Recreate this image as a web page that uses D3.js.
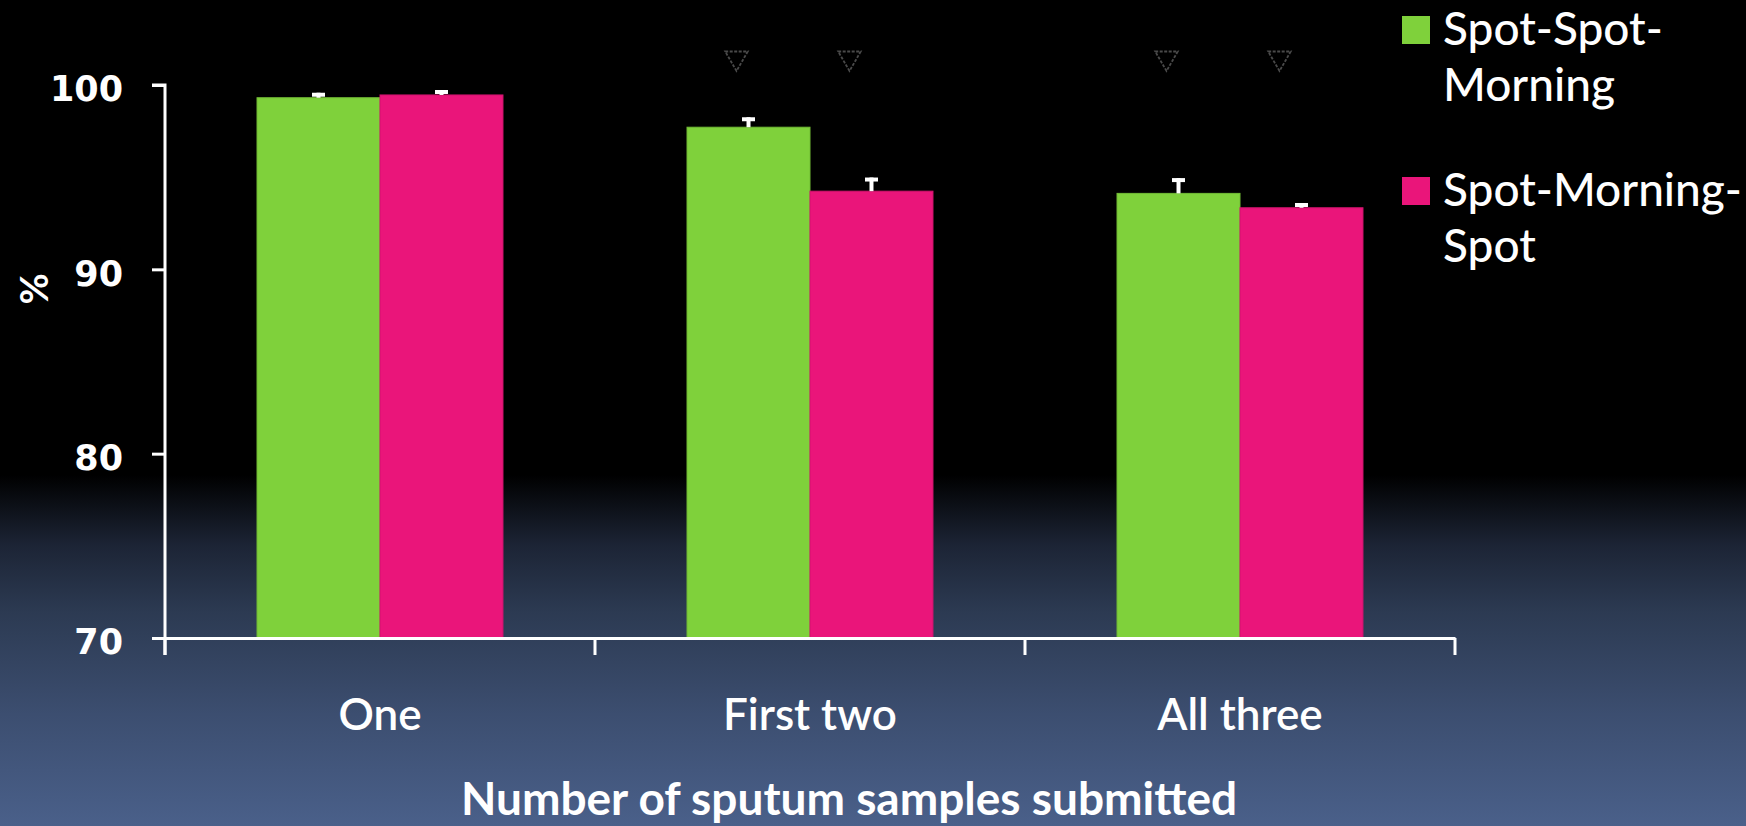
<!DOCTYPE html>
<html><head><meta charset="utf-8">
<script src="https://cdn.jsdelivr.net/npm/d3@7"></script>
<style>html,body{margin:0;padding:0;background:#000;}svg{display:block;}</style>
</head><body>
<svg id="c" width="1746" height="826"></svg>
<script>
const categories = ["One", "First two", "All three"];
const seriesNames = ["Spot-Spot-Morning", "Spot-Morning-Spot"];
const legendLines = [["Spot-Spot-", "Morning"], ["Spot-Morning-", "Spot"]];
const seriesColors = ["#7fd13b", "#ea157a"];
const spotSpotMorning = [99.31, 97.71, 94.12];
const spotMorningSpot = [99.46, 94.24, 93.34];
const errSpotSpotMorning = [0.27, 0.54, 0.83];
const errSpotMorningSpot = [0.27, 0.74, 0.26];
const yTicks = [70, 80, 90, 100];
const markerCategories = ["First two", "All three"];
const xTitle = "Number of sputum samples submitted";
const yTitle = "%";

const values = [spotSpotMorning, spotMorningSpot];
const errs = [errSpotSpotMorning, errSpotMorningSpot];

const svg = d3.select("#c");
const W = 1746, H = 826;
const font = "Lato, 'Open Sans', sans-serif";

// background gradient
const defs = svg.append("defs");
const g = defs.append("linearGradient").attr("id","bg").attr("x1",0).attr("y1",0).attr("x2",0).attr("y2",1);
[[0,"#000"],[0.575,"#000"],[0.66,"#1c2435"],[0.74,"#2c3a52"],[0.865,"#3c4e70"],[1,"#4a608a"]]
  .forEach(([o,c]) => g.append("stop").attr("offset",o).attr("stop-color",c));
svg.append("rect").attr("width",W).attr("height",H).attr("fill","url(#bg)");

const x0 = d3.scaleBand().domain(categories).range([165, 1455]).padding(0);
const x1 = d3.scaleBand().domain(seriesNames)
  .range([x0.bandwidth()*0.214, x0.bandwidth()*0.786]).padding(0);
const y = d3.scaleLinear().domain([70, 100]).range([638, 85]);

// bars
const data = [];
categories.forEach((c, i) => seriesNames.forEach((s, j) =>
  data.push({c, s, j, v: values[j][i], e: errs[j][i]})));

svg.append("g").selectAll("rect").data(data).join("rect")
  .attr("x", d => x0(d.c) + x1(d.s))
  .attr("width", x1.bandwidth())
  .attr("y", d => y(d.v))
  .attr("height", d => y(70) - y(d.v))
  .attr("fill", d => seriesColors[d.j])
  .attr("stroke", d => d3.color(seriesColors[d.j]).darker(0.3))
  .attr("stroke-width", 1);

// error bars
const eb = svg.append("g").attr("stroke","#fff").attr("fill","none");
data.forEach(d => {
  const cx = x0(d.c) + x1(d.s) + x1.bandwidth()/2;
  eb.append("line").attr("x1",cx).attr("x2",cx).attr("y1",y(d.v)).attr("y2",y(d.v+d.e)).attr("stroke-width",4);
  eb.append("line").attr("x1",cx-6.5).attr("x2",cx+6.5).attr("y1",y(d.v+d.e)+2).attr("y2",y(d.v+d.e)+2).attr("stroke-width",4);
});

// significance markers (faint triangles)
const tri = d3.symbol().type(d3.symbolTriangle).size(220);
const markerShift = [-12, -22];
markerCategories.forEach(c => seriesNames.forEach((s, j) => {
  const cx = x0(c) + x1(s) + x1.bandwidth()/2 + markerShift[j];
  svg.append("path").attr("d", tri())
    .attr("transform", `translate(${cx},${y(100)-27}) rotate(180)`)
    .attr("fill","none").attr("stroke","#4a4a4a").attr("stroke-width",1.8)
    .attr("stroke-dasharray","3,1.5");
}));

// y axis
const yAxis = svg.append("g").attr("transform","translate(165,0)")
  .call(d3.axisLeft(y).tickValues(yTicks).tickSize(13).tickPadding(29).tickFormat(d3.format("d")));
yAxis.select(".domain").attr("stroke","#fff").attr("stroke-width",3).attr("d", `M-13,${y(100)}H0V${y(70)+17}`);
yAxis.selectAll(".tick line").attr("stroke","#fff").attr("stroke-width",3);
yAxis.selectAll(".tick text").attr("fill","#fff").attr("font-family","'DejaVu Sans', sans-serif").attr("font-weight","bold")
  .attr("font-size",35).attr("dy","0.45em");

// x axis
const xAxis = svg.append("g").attr("transform",`translate(0,${y(70)})`)
  .call(d3.axisBottom(x0).tickSize(0).tickFormat(""));
xAxis.select(".domain").attr("stroke","#fff").attr("stroke-width",3);
const bounds = categories.map(c => x0(c)).concat([x0(categories[categories.length-1]) + x0.bandwidth()]);
xAxis.selectAll("line.bt").data(bounds).join("line").attr("class","bt")
  .attr("x1",d=>d).attr("x2",d=>d).attr("y1",0).attr("y2",17)
  .attr("stroke","#fff").attr("stroke-width",3);
xAxis.selectAll("text.cl").data(categories).join("text").attr("class","cl")
  .attr("x", d => x0(d) + x0.bandwidth()/2).attr("y", 92)
  .attr("text-anchor","middle").attr("fill","#fff")
  .attr("font-family",font).attr("font-size",44).attr("font-weight",600)
  .text(d => d);

// axis titles
svg.append("text").attr("x", 849).attr("y", 815).attr("text-anchor","middle")
  .attr("fill","#fff").attr("font-family",font).attr("font-weight","bold").attr("font-size",46)
  .text(xTitle);
svg.append("text").attr("transform","translate(48,289) rotate(-90)").attr("text-anchor","middle")
  .attr("fill","#fff").attr("font-family",font).attr("font-weight","bold").attr("font-size",38)
  .text(yTitle);

// legend
const leg = svg.append("g");
const legTop = [16, 177];
seriesNames.forEach((s, j) => {
  leg.append("rect").attr("x",1402).attr("y",legTop[j]).attr("width",28).attr("height",28).attr("fill",seriesColors[j]);
  legendLines[j].forEach((ln, k) => {
    leg.append("text").attr("x",1443).attr("y", legTop[j] + 29 + k*56)
      .attr("fill","#fff").attr("font-family",font).attr("font-size",46).attr("font-weight",500)
      .text(ln);
  });
});
</script>
</body></html>
